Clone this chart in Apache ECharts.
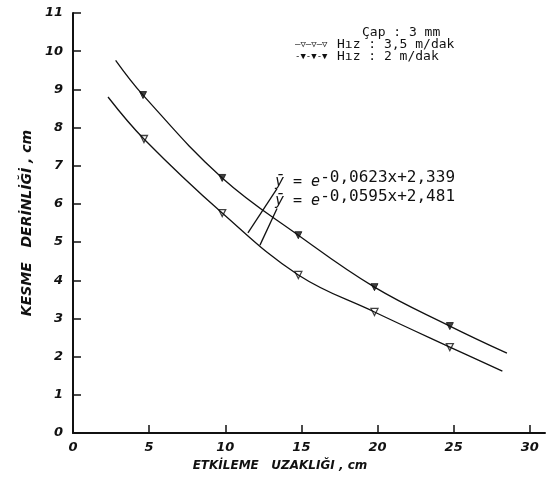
<!DOCTYPE html>
<html>
<head>
<meta charset="utf-8">
<script src="https://cdn.jsdelivr.net/npm/echarts@6/dist/echarts.min.js"></script>
<style>html,body{margin:0;padding:0;background:#fff}#c{width:546px;height:479px}</style>
</head>
<body>
<div id="c"></div>
<script>
// Curve for Hız 2 m/dak (upper, filled markers)
const upperCurveX = [2.8, 4.6, 9.8, 14.8, 19.8, 24.75, 28.5];
const upperCurveY = [9.76, 8.85, 6.68, 5.18, 3.82, 2.80, 2.09];
// Curve for Hız 3,5 m/dak (lower, open markers)
const lowerCurveX = [2.3, 4.66, 9.8, 14.8, 19.8, 24.75, 28.2];
const lowerCurveY = [8.8, 7.70, 5.76, 4.14, 3.17, 2.25, 1.62];
// Measured points
const upperMarkX = [4.6, 9.8, 14.8, 19.8, 24.75];
const upperMarkY = [8.85, 6.68, 5.18, 3.82, 2.80];
const lowerMarkX = [4.66, 9.8, 14.8, 19.8, 24.75];
const lowerMarkY = [7.70, 5.76, 4.14, 3.17, 2.25];
// Tick labels
const xTicks = [0, 5, 10, 15, 20, 25, 30];
const yTicks = [0, 1, 2, 3, 4, 5, 6, 7, 8, 9, 10, 11];
// Leader lines from equations to curves (data coords)
const leader1 = [[13.4, 6.40], [11.49, 5.24]];
const leader2 = [[13.4, 5.88], [12.28, 4.92]];

const zip = (xs, ys) => xs.map((x, i) => [x, ys[i]]);
const labelFont = { color: '#111', fontStyle: 'italic', fontWeight: 'bold', fontFamily: 'DejaVu Sans', fontSize: 13 };

const chart = echarts.init(document.getElementById('c'));
chart.setOption({
  animation: false,
  backgroundColor: '#fff',
  grid: { left: 73, right: 1, top: 13, bottom: 46 },
  xAxis: {
    type: 'value', min: 0, max: 31, interval: 5,
    name: 'ETKİLEME   UZAKLIĞI , cm', nameLocation: 'middle', nameGap: 27,
    nameTextStyle: Object.assign({}, labelFont, { fontSize: 12, padding: [0, 58, 0, 0] }),
    axisLine: { lineStyle: { color: '#111', width: 2 } },
    axisTick: { inside: true, length: 8, customValues: xTicks, lineStyle: { color: '#111', width: 1.5 } },
    axisLabel: Object.assign({}, labelFont, { margin: 8, customValues: xTicks }),
    splitLine: { show: false }
  },
  yAxis: {
    type: 'value', min: 0, max: 11, interval: 1,
    name: 'KESME   DERİNLİĞİ , cm', nameLocation: 'middle', nameGap: 34, nameRotate: 90,
    nameTextStyle: Object.assign({}, labelFont, { fontSize: 14 }),
    axisLine: { lineStyle: { color: '#111', width: 2 } },
    axisTick: { inside: true, length: 8, customValues: yTicks, lineStyle: { color: '#111', width: 1.5 } },
    axisLabel: Object.assign({}, labelFont, { margin: 10, customValues: yTicks }),
    splitLine: { show: false }
  },
  series: [
    {
      type: 'line', data: zip(upperCurveX, upperCurveY), smooth: 0.4, symbol: 'none',
      lineStyle: { color: '#111', width: 1.3 },
      markLine: {
        silent: true, symbol: 'none', label: { show: false },
        lineStyle: { color: '#111', width: 1.3, type: 'solid' },
        data: [
          [{ coord: leader1[0] }, { coord: leader1[1] }],
          [{ coord: leader2[0] }, { coord: leader2[1] }]
        ]
      }
    },
    {
      type: 'line', data: zip(lowerCurveX, lowerCurveY), smooth: 0.4, symbol: 'none',
      lineStyle: { color: '#111', width: 1.3 }
    },
    {
      type: 'scatter', data: zip(upperMarkX, upperMarkY), symbol: 'triangle', symbolRotate: 180, symbolSize: 7,
      itemStyle: { color: '#111', borderColor: '#111', borderWidth: 1 }
    },
    {
      type: 'scatter', data: zip(lowerMarkX, lowerMarkY), symbol: 'triangle', symbolRotate: 180, symbolSize: 7,
      itemStyle: { color: '#fff', borderColor: '#111', borderWidth: 1.3 }
    }
  ],
  graphic: [
    { type: 'text', left: 362, top: 26, style: { text: 'Çap : 3 mm', font: '13px "DejaVu Sans Mono"', fill: '#111' } },
    { type: 'text', left: 295, top: 40, style: { text: '—▽—▽—▽', font: '9px "DejaVu Sans Mono"', fill: '#111' } },
    { type: 'text', left: 337, top: 38, style: { text: 'Hız : 3,5 m/dak', font: '13px "DejaVu Sans Mono"', fill: '#111' } },
    { type: 'text', left: 295, top: 52, style: { text: '-▼-▼-▼', font: '9px "DejaVu Sans Mono"', fill: '#111' } },
    { type: 'text', left: 337, top: 50, style: { text: 'Hız : 2 m/dak', font: '13px "DejaVu Sans Mono"', fill: '#111' } },
    { type: 'text', left: 275, top: 170, style: {
      text: '{a|ȳ = e}{s|-0,0623x+2,339}',
      rich: { a: { font: 'italic 15px "DejaVu Sans Mono"', fill: '#111', padding: [8, 0, 0, 0] },
              s: { font: '16px "DejaVu Sans Mono"', fill: '#111' } } } },
    { type: 'text', left: 275, top: 189, style: {
      text: '{a|ȳ = e}{s|-0,0595x+2,481}',
      rich: { a: { font: 'italic 15px "DejaVu Sans Mono"', fill: '#111', padding: [8, 0, 0, 0] },
              s: { font: '16px "DejaVu Sans Mono"', fill: '#111' } } } }
  ]
});
</script>
</body>
</html>
